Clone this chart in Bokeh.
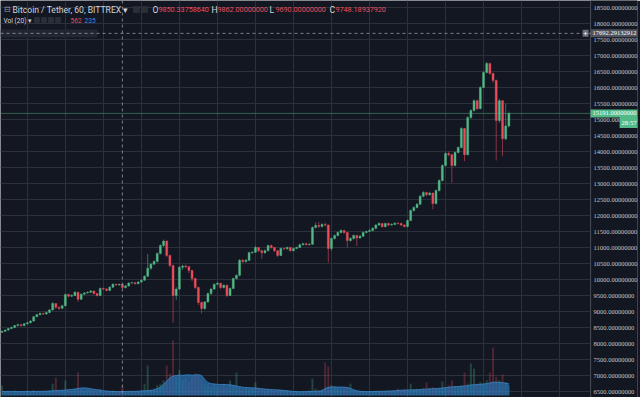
from bokeh.plotting import figure
from bokeh.models import (Range1d, SingleIntervalTicker, FixedTicker, PrintfTickFormatter,
                          Span, Label, BoxAnnotation, ColumnDataSource)
from bokeh.embed import file_html
from bokeh.resources import INLINE

# ---------------- data ----------------
opens = [8350, 8380, 8420, 8470, 8500, 8560, 8590, 8560, 8620, 8650,
         8700, 8840, 8900, 8940, 8920, 8970, 9050, 9250, 9130, 9100,
         9180, 9530, 9480, 9500, 9600, 9380, 9540, 9580, 9600, 9640,
         9560, 9500, 9720, 9700, 9660, 9760, 9850, 9830, 9850.33758640, 9748,
         9800, 9890, 9900, 9870, 9920, 9980, 10100, 10350, 10480, 10560,
         10810, 11060, 11200, 10750, 10440, 9500, 9700, 10380, 10420, 10400,
         10280, 10030, 9750, 9280, 9094, 9300, 9560, 9700, 9850, 9880,
         9750, 9820, 9500, 9720, 10030, 10130, 10600, 10560, 10600, 10840,
         10850, 11000, 10900, 10840, 10900, 11060, 11000, 10900, 10750, 10970,
         10960, 11000, 10900, 10970, 11000, 11090, 11120, 11090, 11100, 11625,
         11690, 11660, 11720, 11700, 10970, 11280, 11375, 11470, 11530, 11470,
         11220, 11280, 11375, 11300, 11350, 11470, 11500, 11530, 11600, 11700,
         11750, 11650, 11750, 11700, 11720, 11760, 11750, 11700, 11656, 11844,
         12156, 12250, 12350, 12600, 12720, 12650, 12700, 12375, 12780, 13094,
         13560, 13940, 13900, 13560, 13970, 14125, 14720, 13900, 15060, 15280,
         15590, 15340, 16000, 16470, 16750, 16440, 16220, 14970, 15590, 14400,
         14800]
closes = [8380, 8420, 8470, 8500, 8560, 8590, 8560, 8620, 8650, 8700,
          8840, 8900, 8940, 8920, 8970, 9050, 9250, 9130, 9100, 9180,
          9530, 9480, 9500, 9600, 9380, 9540, 9580, 9600, 9640, 9560,
          9500, 9720, 9700, 9660, 9760, 9850, 9830, 9850, 9748.18937920, 9800,
          9890, 9900, 9870, 9920, 9980, 10100, 10350, 10480, 10560, 10810,
          11060, 11200, 10750, 10440, 9500, 9700, 10380, 10420, 10400, 10280,
          10030, 9750, 9280, 9094, 9300, 9560, 9700, 9850, 9880, 9750,
          9820, 9500, 9720, 10030, 10130, 10600, 10560, 10600, 10840, 10850,
          11000, 10900, 10840, 10900, 11060, 11000, 10900, 10750, 10970, 10960,
          11000, 10900, 10970, 11000, 11090, 11120, 11090, 11100, 11625, 11690,
          11660, 11720, 11700, 10970, 11280, 11375, 11470, 11530, 11470, 11220,
          11280, 11375, 11300, 11350, 11470, 11500, 11530, 11600, 11700, 11750,
          11650, 11750, 11700, 11720, 11760, 11750, 11700, 11656, 11844, 12156,
          12250, 12350, 12600, 12720, 12650, 12700, 12375, 12780, 13094, 13560,
          13940, 13900, 13560, 13970, 14125, 14720, 13900, 15060, 15280, 15590,
          15340, 16000, 16470, 16750, 16440, 16220, 14970, 15590, 14400, 14800,
          15191]
highs = [8400, 8440, 8490, 8530, 8580, 8620, 8610, 8640, 8680, 8730,
         8860, 8930, 8970, 8960, 9000, 9080, 9300, 9270, 9160, 9210,
         9560, 9560, 9540, 9640, 9620, 9570, 9610, 9630, 9670, 9660,
         9580, 9750, 9750, 9730, 9790, 9880, 9870, 9870, 9862, 9830,
         9910, 9930, 9920, 9950, 10010, 10130, 10800, 10520, 10600, 10850,
         11100, 11250, 11220, 10780, 10460, 9760, 10420, 10460, 10470, 10430,
         10300, 10060, 9780, 9310, 9330, 9590, 9730, 9880, 9920, 9900,
         9850, 9840, 9750, 10060, 10160, 10640, 10640, 10640, 10870, 10890,
         11050, 11020, 10930, 10940, 11090, 11090, 11020, 10920, 11000, 11000,
         11030, 11020, 11000, 11030, 11120, 11150, 11150, 11140, 11660, 11780,
         11800, 11760, 11780, 11720, 11310, 11410, 11500, 11570, 11560, 11490,
         11320, 11410, 11400, 11390, 11500, 11530, 11570, 11630, 11730, 11790,
         11770, 11780, 11780, 11760, 11790, 11790, 11780, 11730, 11870, 12190,
         12290, 12390, 12640, 12760, 12750, 12740, 12720, 12810, 13130, 13600,
         13980, 14000, 13930, 14000, 14160, 14760, 14740, 15100, 15320, 15630,
         15620, 16040, 16510, 16800, 16770, 16460, 16250, 15650, 15600, 15500,
         15250]
lows = [8330, 8360, 8400, 8450, 8480, 8540, 8530, 8540, 8600, 8630,
        8680, 8820, 8880, 8890, 8900, 8950, 9030, 9080, 9040, 9070,
        9160, 9440, 9450, 9480, 9300, 9360, 9520, 9560, 9580, 9530,
        9470, 9480, 9670, 9630, 9640, 9740, 9800, 9810, 9690, 9720,
        9780, 9870, 9840, 9850, 9900, 9960, 10080, 10300, 10450, 10530,
        10780, 11020, 10700, 10380, 8650, 9350, 9680, 10300, 10350, 10200,
        9950, 9700, 9200, 8940, 9050, 9280, 9520, 9680, 9820, 9700,
        9720, 9450, 9480, 9700, 10000, 10100, 10520, 10530, 10580, 10800,
        10830, 10860, 10650, 10800, 10880, 10960, 10860, 10700, 10730, 10920,
        10930, 10870, 10880, 10950, 10980, 11060, 11060, 11060, 11080, 11600,
        11620, 11630, 11660, 10530, 10900, 11250, 11350, 11440, 11430, 11000,
        11180, 11250, 11050, 11270, 11330, 11440, 11480, 11500, 11570, 11680,
        11620, 11630, 11670, 11680, 11700, 11720, 11670, 11620, 11630, 11820,
        12120, 12220, 12330, 12570, 12600, 12620, 12200, 12350, 12750, 13060,
        13530, 13850, 13030, 13540, 13940, 14100, 13700, 13880, 15020, 15250,
        15290, 15320, 15980, 16440, 16400, 16150, 13720, 14900, 13850, 14350,
        14750]
volumes = [590, 200, 260, 180, 300, 220, 250, 190, 280, 210, 330, 240, 200, 260, 230, 300,
           700, 1060, 250, 300, 885, 350, 280, 400,
           1360, 380, 300, 420, 350, 300, 260, 400,
           220, 260, 200, 300, 240, 190, 562, 210, 230, 250, 200, 280,
           300, 700, 1770, 350, 420, 600, 700, 900, 1770,
           1300, 3250, 1100, 1500, 900, 1000, 800, 1100, 1300, 1200, 1000,
           700, 600, 500, 650, 550, 600, 700, 500, 885, 600,
           1360, 500, 400, 450, 380, 420, 770, 400,
           350, 300, 400, 320, 280, 350, 300, 250, 280,
           200, 230, 250, 200, 220, 240, 300, 1000, 400, 300, 350,
           1950, 1710, 600, 500, 450, 400, 500, 450, 700, 300,
           250, 220, 260, 200, 240, 230, 280, 250, 220, 260, 300, 250, 280,
           400, 300, 350, 300, 700, 350, 400, 380, 450,
           770, 450, 500, 400, 450, 830, 500,
           600, 885, 550, 500, 600, 1360, 700,
           1890, 1590, 700, 800, 700, 900,
           1360, 2830, 1100, 900, 1240, 800, 600]
vol_ma = [230, 235, 240, 240, 235, 230, 235, 240, 245, 240, 235, 240, 245, 250, 255, 265,
          280, 290, 300, 310, 320, 340, 360, 380,
          420, 440, 450, 430, 400, 370, 340, 310,
          280, 260, 245, 235, 230, 230, 235, 235, 240, 240, 245, 250,
          270, 280, 290, 300, 330, 400, 500, 650, 850,
          1050, 1150, 1180, 1200, 1190, 1210, 1220, 1200, 1210, 1230, 1180,
          950, 760, 700, 680, 660, 650, 650, 640, 630, 600,
          560, 520, 490, 470, 460, 450, 440, 420,
          400, 380, 360, 350, 340, 330, 320, 300, 280,
          260, 240, 230, 225, 225, 230, 235, 240, 250, 260, 280,
          420, 480, 500, 510, 500, 500, 490, 480, 420, 340,
          280, 250, 235, 230, 230, 235, 240, 245, 250, 255, 260, 270, 280,
          300, 310, 320, 330, 330, 340, 340, 350, 360,
          380, 390, 400, 410, 420, 440, 460,
          490, 510, 520, 530, 540, 560, 580,
          620, 640, 650, 660, 680, 700,
          740, 780, 790, 770, 760, 720, 700]

symbol_title = "Bitcoin / Tether, 60, BITTREX ▾"
ohlc_names = ["O", "H", "L", "C"]
ohlc_values = ["9850.33758640", "9862.00000000", "9690.00000000", "9748.18937920"]
vol_title = "Vol (20) ▾"
vol_value = "562"
vol_ma_value = "235"
crosshair_index = 38
crosshair_price = 17692.29132912
last_price = 15191.00000000
countdown = "28:57"

# ---------------- styling ----------------
BG = "#131722"
GRID = "#2c303b"
UP = "#53b987"
DOWN = "#eb4d5c"
TXT = "#d1d4dc"
AXFONT = "Liberation Sans Narrow"
AXSIZE = "6.5px"
W, H = 640, 397
PANE_EDGE = 185.8     # index position of the price-scale border

n = len(closes)
xs = list(range(n))
colors = [UP if c >= o else DOWN for o, c in zip(opens, closes)]

src = ColumnDataSource(dict(x=xs, open=opens, close=closes, high=highs, low=lows,
                            vol=volumes, ma=vol_ma, color=colors))

p = figure(width=W, height=H, output_backend="svg", toolbar_location=None,
           x_range=Range1d(-0.47, 200.6), y_range=Range1d(6313, 18719),
           x_axis_location=None, y_axis_location="right",
           background_fill_color=BG, border_fill_color=BG, outline_line_color=None,
           min_border=0)
p.extra_y_ranges = {"vol": Range1d(-118, 23300)}

# grids
p.xgrid.ticker = FixedTicker(ticks=list(range(8, 186, 12)))
p.xgrid.grid_line_color = GRID
p.ygrid.grid_line_color = GRID

# price-scale strip (covers grid on the right)
p.add_layout(BoxAnnotation(left=PANE_EDGE, fill_color=BG, fill_alpha=1.0, line_color=None,
                           level="underlay"))
p.add_layout(Span(location=PANE_EDGE, dimension="height", line_color="#4a4e59", line_width=1,
                  level="underlay"))
# faint legend highlight band at the top left
p.add_layout(BoxAnnotation(left=0, right=97, top=H - 29, bottom=H - 37,
                           left_units="screen", right_units="screen",
                           top_units="screen", bottom_units="screen",
                           fill_color="#222633", fill_alpha=1.0, line_color=None, level="underlay"))

# right price axis, labels drawn back over the price-scale strip
ax = p.yaxis[0]
ax.ticker = SingleIntervalTicker(interval=500, num_minor_ticks=0)
ax.formatter = PrintfTickFormatter(format="%.8f")
ax.major_label_text_font = AXFONT
ax.major_label_text_font_size = AXSIZE
ax.major_label_text_color = "#c3c6ce"
ax.axis_line_color = None
ax.major_tick_line_color = None
ax.major_tick_out = 0
ax.major_tick_in = 0
ax.major_label_standoff = -44

# volume pane
p.vbar(x="x", width=0.62, top="vol", bottom=0, source=src, y_range_name="vol",
       fill_color="color", line_color=None, fill_alpha=0.28)
p.varea(x="x", y1=0, y2="ma", source=src, y_range_name="vol",
        fill_color="#2b78bd", fill_alpha=0.68)
p.line(x="x", y="ma", source=src, y_range_name="vol", line_color="#3a86c8", line_width=1, line_alpha=0.8)

# candles
p.segment(x0="x", y0="low", x1="x", y1="high", source=src, line_color="color", line_alpha=0.55, line_width=1)
p.vbar(x="x", width=0.62, top="open", bottom="close", source=src,
       fill_color="color", line_color="color", line_width=0.4)

# crosshair & last price line
p.add_layout(Span(location=crosshair_index, dimension="height", line_color="#9598a1",
                  line_dash="3 3", line_width=1, line_alpha=0.8))
p.add_layout(Span(location=crosshair_price, dimension="width", line_color="#9598a1",
                  line_dash="3 3", line_width=1, line_alpha=0.8))
p.add_layout(Span(location=last_price, dimension="width", line_color=UP,
                  line_alpha=0.45, line_width=1))

# axis boxes
p.add_layout(Label(x=PANE_EDGE, y=crosshair_price, text=f"{crosshair_price:.8f}", x_offset=0,
                   text_baseline="middle", text_font=AXFONT, text_font_size=AXSIZE,
                   text_color="#ffffff", background_fill_color="#50535e", padding=2))
p.add_layout(Label(x=PANE_EDGE, y=crosshair_price, text="+", x_offset=-8,
                   text_baseline="middle", text_font="Roboto", text_font_size="7px",
                   text_color="#ffffff", background_fill_color="#6a6d78", padding=1))
p.add_layout(Label(x=PANE_EDGE, y=last_price, text=f"{last_price:.8f}", x_offset=0,
                   text_baseline="middle", text_font=AXFONT, text_font_size=AXSIZE,
                   text_color="#ffffff", background_fill_color=UP, padding=2))
p.add_layout(Label(x=PANE_EDGE, y=last_price, text=countdown, x_offset=29, y_offset=-9,
                   text_baseline="middle", text_font=AXFONT, text_font_size=AXSIZE,
                   text_color="#ffffff", background_fill_color=UP, padding=2))


def add_text(x, y_from_top, text, color, size):
    p.add_layout(Label(x=x, y=H - y_from_top, x_units="screen", y_units="screen", text=text,
                       text_color=color, text_font="Roboto", text_font_size=f"{size}px",
                       text_baseline="middle"))


def add_button(x, y_from_top, size):
    p.add_layout(BoxAnnotation(left=x, right=x + size, top=H - y_from_top,
                               bottom=H - y_from_top - size,
                               left_units="screen", right_units="screen",
                               top_units="screen", bottom_units="screen",
                               fill_color="#2a2e39", fill_alpha=1.0,
                               line_color="#434651", line_width=1))


add_text(3, 9, "⊟", "#9598a1", 8)
add_text(12, 9, symbol_title, TXT, 8.6)
for bx in (133, 141):
    add_button(bx, 6, 6)
ox = [152, 211, 269, 329]
for x0, nm, val in zip(ox, ohlc_names, ohlc_values):
    add_text(x0, 9, nm, TXT, 8.6)
    add_text(x0 + 6, 9, val, DOWN, 7.2)
add_text(3, 20, vol_title, TXT, 6.6)
for bx in (34, 41, 48, 55):
    add_button(bx, 17, 5)
add_text(70, 20, vol_value, DOWN, 6.6)
add_text(84, 20, vol_ma_value, "#3d8fe0", 6.6)

open("out.html", "w").write(file_html(p, INLINE))
